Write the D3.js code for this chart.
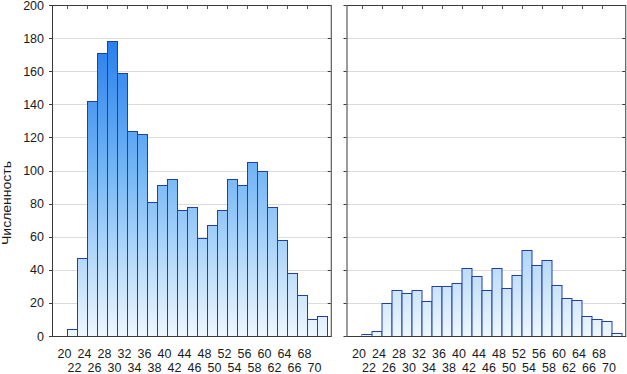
<!DOCTYPE html>
<html>
<head>
<meta charset="utf-8">
<script src="https://cdn.jsdelivr.net/npm/d3@7"></script>
<style>
  body { margin: 0; background: #fff; }
  svg text { font-family: "Liberation Sans", Arial, sans-serif; fill: #1a1a1a; }
</style>
</head>
<body>
<div id="chart"></div>
<script>
// age bins (lower bound of each 2-year bin)
const bins = [20, 22, 24, 26, 28, 30, 32, 34, 36, 38, 40, 42, 44, 46, 48, 50, 52, 54, 56, 58, 60, 62, 64, 66, 68, 70];
const leftCounts = [4, 47, 142, 171, 178, 159, 124, 122, 81, 91, 95, 76, 78, 59, 67, 76, 95, 91, 105, 100, 78, 58, 38, 25, 10, 12];
const rightCounts = [1, 3, 20, 28, 26, 28, 21, 30, 30, 32, 41, 36, 28, 41, 29, 37, 52, 43, 46, 31, 23, 22, 12, 10, 9, 2];
const yTicks = [0, 20, 40, 60, 80, 100, 120, 140, 160, 180, 200];
const yTitle = "Численность";

const svg = d3.select("#chart")
  .append("svg")
  .attr("width", 627)
  .attr("height", 374);

const defs = svg.append("defs");
const grad = defs.append("linearGradient")
  .attr("id", "barFill")
  .attr("gradientUnits", "userSpaceOnUse")
  .attr("x1", 0).attr("x2", 0)
  .attr("y1", 5).attr("y2", 336);
grad.append("stop").attr("offset", "0%").attr("stop-color", "#1570ea");
grad.append("stop").attr("offset", "50%").attr("stop-color", "#74b6f5");
grad.append("stop").attr("offset", "100%").attr("stop-color", "#eef7fe");

const y = d3.scaleLinear().domain([0, 200]).range([336, 5]);

function drawPanel(counts, left, showLabels) {
  const x = d3.scaleLinear().domain([17, 72.75]).range([left, left + 278.75]);
  const g = svg.append("g");
  const x0 = x.range()[0], x1 = x.range()[1];

  // grid lines
  g.selectAll("line.grid")
    .data(yTicks.filter(t => t > 0 && t < 200))
    .enter().append("line")
    .attr("x1", x0).attr("x2", x1)
    .attr("y1", d => Math.round(y(d)) + 0.5)
    .attr("y2", d => Math.round(y(d)) + 0.5)
    .attr("stroke", "#dcdcdc");

  // bars
  g.selectAll("rect.bar")
    .data(bins)
    .enter().append("rect")
    .attr("x", d => x(d) + 0.5)
    .attr("y", (d, i) => Math.round(y(counts[i])) + 0.5)
    .attr("width", d => x(d + 2) - x(d))
    .attr("height", (d, i) => Math.round(y(0)) - Math.round(y(counts[i])))
    .attr("fill", "url(#barFill)")
    .attr("stroke", "#1f3fae")
    .attr("stroke-width", 1);

  // frame
  g.append("rect")
    .attr("x", x0 + 0.5).attr("y", 5.5)
    .attr("width", x1 - x0).attr("height", 331)
    .attr("fill", "none")
    .attr("stroke", "#3a3a3a");

  // y ticks: outside on left, inside on right
  yTicks.forEach(t => {
    const yy = Math.round(y(t)) + 0.5;
    g.append("line").attr("x1", x0 - 3).attr("x2", x0).attr("y1", yy).attr("y2", yy).attr("stroke", "#3a3a3a");
    g.append("line").attr("x1", x1 - 3).attr("x2", x1).attr("y1", yy).attr("y2", yy).attr("stroke", "#3a3a3a");
  });

  // top ticks every 4 years
  bins.filter(b => (b - 20) % 4 === 0).forEach(b => {
    const xx = Math.round(x(b)) + 0.5;
    g.append("line").attr("x1", xx).attr("x2", xx).attr("y1", 5.5).attr("y2", 9).attr("stroke", "#555");
  });

  // x labels, alternating rows
  g.selectAll("text.xl")
    .data(bins)
    .enter().append("text")
    .attr("x", d => x(d) - 2.5)
    .attr("y", (d, i) => i % 2 === 0 ? 358 : 372)
    .attr("text-anchor", "middle")
    .attr("font-size", 12.5)
    .text(d => d);

  if (showLabels) {
    g.selectAll("text.yl")
      .data(yTicks)
      .enter().append("text")
      .attr("x", x0 - 8)
      .attr("y", d => y(d) + 4.5)
      .attr("text-anchor", "end")
      .attr("font-size", 12.5)
      .text(d => d);
  }
}

drawPanel(leftCounts, 52, true);
drawPanel(rightCounts, 346.5, false);

svg.append("text")
  .attr("transform", "translate(11,203) rotate(-90)")
  .attr("text-anchor", "middle")
  .attr("font-size", 12)
  .attr("textLength", 84)
  .attr("lengthAdjust", "spacingAndGlyphs")
  .text(yTitle);
</script>
</body>
</html>
